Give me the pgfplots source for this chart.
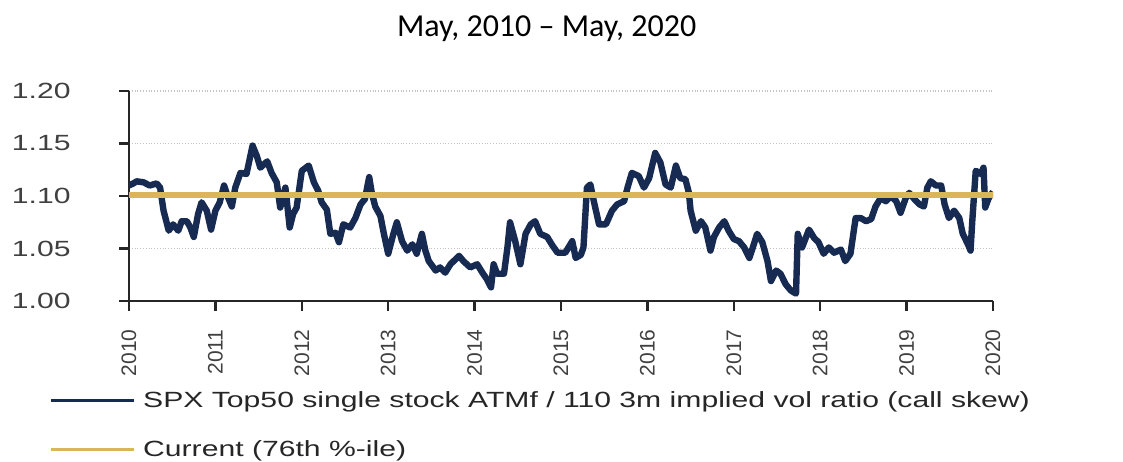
\documentclass[border=0pt]{standalone}
\usepackage{pgfplots}
\usepackage{pgfplotstable}
\pgfplotsset{compat=1.18}
\usepackage{fontspec}
\setmainfont{Liberation Sans}
\newfontfamily\widefont{Liberation Sans}[FakeStretch=1.37]
\newfontfamily\titlefont{Carlito}

\definecolor{navy}{RGB}{22,42,82}
\definecolor{gold}{RGB}{217,182,90}
\definecolor{axisgray}{RGB}{38,38,38}
\definecolor{labelgray}{RGB}{64,64,64}
\definecolor{gridgray}{RGB}{195,195,195}

% call skew ratio
\pgfplotstableread{
year value
2010.00 1.110
2010.05 1.112
2010.09 1.114
2010.17 1.113
2010.24 1.110
2010.32 1.112
2010.36 1.108
2010.40 1.086
2010.46 1.067
2010.51 1.073
2010.57 1.067
2010.61 1.076
2010.67 1.076
2010.71 1.070
2010.75 1.061
2010.80 1.083
2010.84 1.094
2010.90 1.086
2010.95 1.068
2011.00 1.086
2011.05 1.094
2011.10 1.110
2011.15 1.098
2011.19 1.090
2011.23 1.108
2011.29 1.122
2011.36 1.121
2011.43 1.148
2011.48 1.138
2011.52 1.127
2011.60 1.133
2011.65 1.122
2011.71 1.113
2011.75 1.089
2011.81 1.108
2011.86 1.070
2011.90 1.083
2011.94 1.089
2012.00 1.124
2012.08 1.129
2012.14 1.113
2012.19 1.105
2012.23 1.094
2012.29 1.087
2012.33 1.064
2012.39 1.065
2012.43 1.056
2012.48 1.073
2012.56 1.070
2012.62 1.079
2012.68 1.092
2012.73 1.097
2012.78 1.118
2012.81 1.103
2012.85 1.090
2012.91 1.081
2012.95 1.064
2013.00 1.045
2013.06 1.064
2013.10 1.075
2013.16 1.057
2013.22 1.048
2013.28 1.054
2013.33 1.045
2013.39 1.064
2013.43 1.048
2013.47 1.038
2013.55 1.029
2013.60 1.032
2013.66 1.027
2013.72 1.035
2013.82 1.043
2013.87 1.038
2013.95 1.032
2014.03 1.035
2014.09 1.027
2014.14 1.021
2014.19 1.013
2014.22 1.035
2014.26 1.026
2014.34 1.026
2014.38 1.051
2014.41 1.075
2014.47 1.057
2014.53 1.035
2014.59 1.064
2014.65 1.073
2014.70 1.076
2014.76 1.064
2014.84 1.061
2014.90 1.053
2014.96 1.046
2015.05 1.046
2015.13 1.057
2015.17 1.041
2015.23 1.044
2015.26 1.051
2015.30 1.108
2015.34 1.111
2015.38 1.095
2015.44 1.073
2015.52 1.073
2015.59 1.086
2015.65 1.092
2015.73 1.095
2015.77 1.108
2015.82 1.122
2015.90 1.119
2015.96 1.108
2016.02 1.117
2016.09 1.141
2016.15 1.132
2016.21 1.111
2016.27 1.108
2016.33 1.129
2016.38 1.117
2016.44 1.116
2016.48 1.103
2016.50 1.086
2016.56 1.067
2016.62 1.076
2016.67 1.070
2016.73 1.048
2016.77 1.061
2016.83 1.070
2016.89 1.076
2016.94 1.067
2017.00 1.059
2017.06 1.057
2017.12 1.051
2017.18 1.041
2017.22 1.051
2017.27 1.064
2017.33 1.056
2017.39 1.038
2017.43 1.019
2017.49 1.029
2017.54 1.026
2017.60 1.016
2017.66 1.010
2017.72 1.007
2017.74 1.064
2017.79 1.051
2017.87 1.068
2017.93 1.060
2017.98 1.056
2018.04 1.045
2018.10 1.051
2018.16 1.046
2018.24 1.049
2018.29 1.038
2018.35 1.045
2018.41 1.079
2018.47 1.079
2018.53 1.076
2018.59 1.078
2018.64 1.090
2018.70 1.098
2018.76 1.095
2018.82 1.100
2018.88 1.095
2018.93 1.084
2018.99 1.098
2019.03 1.103
2019.09 1.097
2019.15 1.092
2019.20 1.090
2019.24 1.108
2019.28 1.114
2019.34 1.110
2019.40 1.110
2019.44 1.092
2019.49 1.079
2019.55 1.086
2019.61 1.079
2019.65 1.064
2019.71 1.054
2019.74 1.048
2019.76 1.076
2019.80 1.124
2019.86 1.121
2019.89 1.127
2019.91 1.089
2019.95 1.098
2020.00 1.104
}\skewdata

\begin{document}
\begin{tikzpicture}
\begin{axis}[
    at={(64.5pt,-150.5pt)}, anchor=south west,
    scale only axis, width=432pt, height=105pt,
    xmin=2010, xmax=2020, ymin=1.00, ymax=1.20,
    axis x line=bottom, axis y line=left,
    axis line style={-, line width=1.2pt, draw=axisgray},
    tick align=outside, major tick length=5pt,
    tick style={line width=1.2pt, draw=axisgray},
    xtick={2010,2011,2012,2013,2014,2015,2016,2017,2018,2019,2020},
    xticklabels={2010,2011,2012,2013,2014,2015,2016,2017,2018,2019,2020},
    ytick={1.00,1.05,1.10,1.15,1.20},
    yticklabels={1.00,1.05,1.10,1.15,1.20},
    xticklabel style={font=\fontsize{10.5}{12}\selectfont, text=labelgray,
        rotate=90, anchor=east, inner sep=0pt, xshift=-3pt},
    xticklabel shift=6pt,
    yticklabel style={font=\widefont\fontsize{11}{13}\selectfont, text=labelgray,
        anchor=east, inner sep=0pt, xshift=-7pt},
    yticklabel shift=17pt,
    ymajorgrids,
    major grid style={gridgray, densely dotted, line width=0.6pt},
    legend style={at={(axis description cs:-0.0926,-0.4295)}, anchor=north west,
        draw=none, fill=none, inner sep=0pt, outer sep=0pt,
        row sep=15.1pt, column sep=4pt,
        font=\widefont\fontsize{11}{13}\selectfont, text=black!85,
        nodes={inner sep=0pt}},
    legend cell align=left,
    legend image code/.code={\draw[#1, line width=1.6pt] (0pt,0pt) -- (41.5pt,0pt);},
]
\addplot[navy, line width=3.2pt, line join=round] table[x=year, y=value] {\skewdata};
\addlegendentry{SPX Top50 single stock ATMf / 110 3m implied vol ratio (call skew)}
\addplot[gold, line width=2.8pt] coordinates {(2010,1.101) (2020,1.101)};
\addlegendentry{Current (76th \%-ile)}
\end{axis}
\node[font=\titlefont\fontsize{16}{18}\selectfont, anchor=base] at (273.3pt,-18.3pt)
    {May, 2010 – May, 2020};
\pgfresetboundingbox
\useasboundingbox (0pt,0pt) rectangle (561.5pt,-230.5pt);
\end{tikzpicture}
\end{document}
